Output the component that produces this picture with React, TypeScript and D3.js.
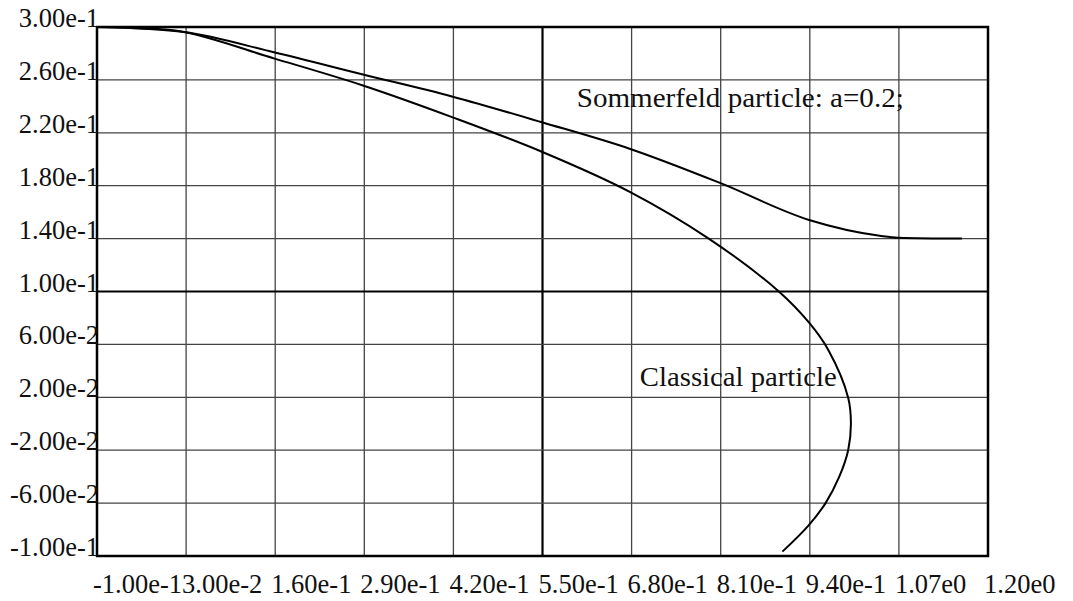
import React from "react";
import * as d3 from "d3";

const xTickValues = [-0.1, 0.03, 0.16, 0.29, 0.42, 0.55, 0.68, 0.81, 0.94, 1.07, 1.2];
const xTickLabels = ["-1.00e-1", "3.00e-2", "1.60e-1", "2.90e-1", "4.20e-1", "5.50e-1", "6.80e-1", "8.10e-1", "9.40e-1", "1.07e0", "1.20e0"];
const yTickValues = [0.3, 0.26, 0.22, 0.18, 0.14, 0.1, 0.06, 0.02, -0.02, -0.06, -0.1];
const yTickLabels = ["3.00e-1", "2.60e-1", "2.20e-1", "1.80e-1", "1.40e-1", "1.00e-1", "6.00e-2", "2.00e-2", "-2.00e-2", "-6.00e-2", "-1.00e-1"];

const sommerfeldX = [-0.1, -0.052, 0.027, 0.158, 0.288, 0.419, 0.549, 0.678, 0.809, 0.939, 1.042, 1.069, 1.162];
const sommerfeldY = [0.3, 0.2992, 0.2962, 0.2809, 0.2641, 0.2473, 0.228, 0.2078, 0.1821, 0.1541, 0.1422, 0.1407, 0.14];

const classicalX = [-0.1, -0.052, 0.027, 0.158, 0.288, 0.419, 0.549, 0.678, 0.792, 0.894, 0.939, 0.967, 0.996, 1.0, 0.996, 0.983, 0.963, 0.938, 0.9];
const classicalY = [0.3, 0.2995, 0.2962, 0.2763, 0.2558, 0.2317, 0.2057, 0.1752, 0.1402, 0.1004, 0.0764, 0.0558, 0.0197, 0.0, -0.02, -0.04, -0.06, -0.077, -0.0967];

const annotations = [
  { text: "Sommerfeld particle: a=0.2;", x: 0.6, y: 0.2395, width: 327 },
  { text: "Classical particle", x: 0.692, y: 0.0284, width: 197 },
];

const W = 1073;
const H = 601;
const left = 97;
const right = 988;
const top = 27;
const bottom = 556;

export default function App() {
  const x = d3.scaleLinear().domain([-0.1, 1.2]).range([left, right]);
  const y = d3.scaleLinear().domain([-0.1, 0.3]).range([bottom, top]);

  const somPts: [number, number][] = sommerfeldX.map((v, i) => [v, sommerfeldY[i]]);
  const claPts: [number, number][] = classicalX.map((v, i) => [v, classicalY[i]]);

  const somLine = d3
    .line<[number, number]>()
    .x((d) => x(d[0]))
    .y((d) => y(d[1]))
    .curve(d3.curveMonotoneX);
  const claLine = d3
    .line<[number, number]>()
    .x((d) => x(d[0]))
    .y((d) => y(d[1]))
    .curve(d3.curveCatmullRom.alpha(0.5));

  const font = "'Liberation Serif', 'Times New Roman', serif";
  const fs = 26.5;

  return (
    <svg
      width={W}
      height={H}
      style={{ position: "absolute", left: 0, top: 0, background: "#fff" }}
      fontFamily={font}
    >
      <rect x={0} y={0} width={W} height={H} fill="#fff" />
      {xTickValues.map((v, i) => (
        <line
          key={"gx" + i}
          x1={x(v)}
          x2={x(v)}
          y1={top}
          y2={bottom}
          stroke={Math.abs(v - 0.55) < 1e-9 ? "#000" : "#444"}
          strokeWidth={Math.abs(v - 0.55) < 1e-9 ? 2.2 : 1.3}
        />
      ))}
      {yTickValues.map((v, i) => (
        <line
          key={"gy" + i}
          x1={left}
          x2={right}
          y1={y(v)}
          y2={y(v)}
          stroke={Math.abs(v - 0.1) < 1e-9 ? "#000" : "#444"}
          strokeWidth={Math.abs(v - 0.1) < 1e-9 ? 2.2 : 1.3}
        />
      ))}
      <rect
        x={left}
        y={top}
        width={right - left}
        height={bottom - top}
        fill="none"
        stroke="#000"
        strokeWidth={2.5}
      />
      <path d={somLine(somPts) || ""} fill="none" stroke="#000" strokeWidth={2} />
      <path d={claLine(claPts) || ""} fill="none" stroke="#000" strokeWidth={2} />
      {yTickValues.map((v, i) => (
        <text
          key={"ty" + i}
          x={left + 2}
          y={y(v)}
          textAnchor="end"
          fontSize={fs}
          fill="#111"
        >
          {yTickLabels[i]}
        </text>
      ))}
      {xTickValues.map((v, i) => (
        <text
          key={"tx" + i}
          x={x(v) - 4}
          y={593}
          textAnchor="start"
          fontSize={fs}
          fill="#111"
        >
          {xTickLabels[i]}
        </text>
      ))}
      {annotations.map((a, i) => (
        <text
          key={"a" + i}
          x={x(a.x)}
          y={y(a.y)}
          fontSize={fs}
          fill="#111"
          textLength={a.width}
          lengthAdjust="spacingAndGlyphs"
        >
          {a.text}
        </text>
      ))}
    </svg>
  );
}
